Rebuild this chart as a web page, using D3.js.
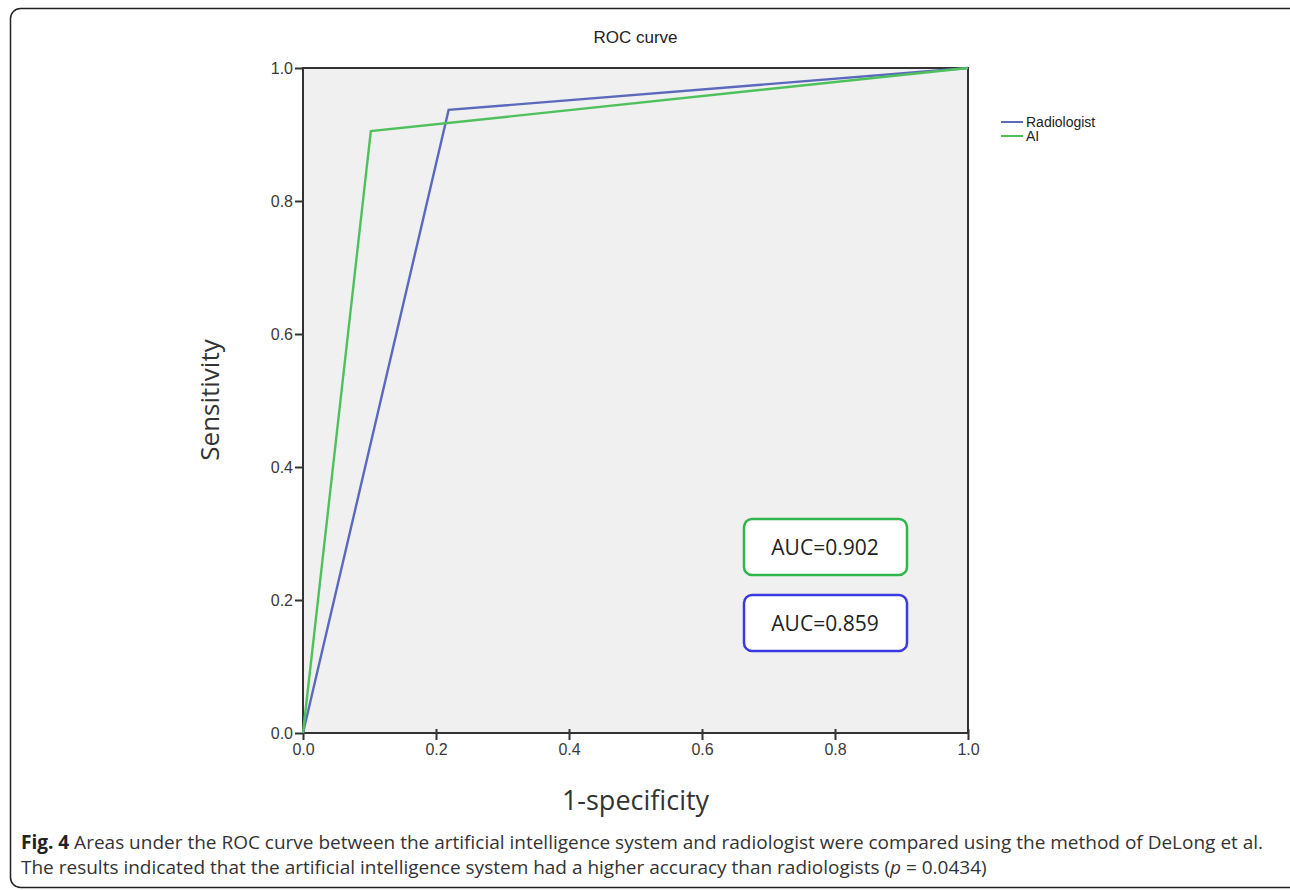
<!DOCTYPE html>
<html>
<head>
<meta charset="utf-8">
<script src="https://cdn.jsdelivr.net/npm/d3@7"></script>
<style>
  body { margin: 0; background: #fff; }
  svg { display: block; }
</style>
</head>
<body>
<div id="chart"></div>
<script>
// ROC points: [1-specificity, sensitivity]
const radiologistPoints = [[0, 0], [0.219, 0.937], [1, 1]];
const aiPoints = [[0, 0], [0.102, 0.905], [1, 1]];
const seriesNames = ["Radiologist", "AI"];
const aucLabels = ["AUC=0.902", "AUC=0.859"];
const tickValues = [0, 0.2, 0.4, 0.6, 0.8, 1.0];

const W = 1290, H = 890;
const plot = { left: 303, right: 968, top: 68, bottom: 733 };

const svg = d3.select("#chart").append("svg")
  .attr("width", W)
  .attr("height", H);

// outer frame
svg.append("rect")
  .attr("x", 10.5).attr("y", 8.5)
  .attr("width", 1290).attr("height", 879)
  .attr("rx", 10)
  .attr("fill", "none")
  .attr("stroke", "#222")
  .attr("stroke-width", 1.5);

const x = d3.scaleLinear().domain([0, 1]).range([plot.left, plot.right]);
const y = d3.scaleLinear().domain([0, 1]).range([plot.bottom, plot.top]);

// plot background
svg.append("rect")
  .attr("x", plot.left).attr("y", plot.top)
  .attr("width", plot.right - plot.left)
  .attr("height", plot.bottom - plot.top)
  .attr("fill", "#f0f0f0")
  .attr("stroke", "#333")
  .attr("stroke-width", 2);

// axes
const fmt = d3.format(".1f");
const xAxis = svg.append("g")
  .attr("transform", `translate(0,${plot.bottom})`)
  .call(d3.axisBottom(x).tickValues(tickValues).tickFormat(fmt).tickSize(7).tickPadding(4));
const yAxis = svg.append("g")
  .attr("transform", `translate(${plot.left},0)`)
  .call(d3.axisLeft(y).tickValues(tickValues).tickFormat(fmt).tickSize(8).tickPadding(2));

[xAxis, yAxis].forEach(g => {
  g.select(".domain").remove();
  g.selectAll("line").attr("stroke", "#333").attr("stroke-width", 2);
  g.attr("font-size", null);
  g.selectAll("text")
    .attr("fill", "#3a3a3a")
    .style("font-family", "Arial, 'Liberation Sans', sans-serif")
    .style("font-size", "16px");
});
// the bottom ticks in the picture go down from the axis
xAxis.selectAll("line").attr("y1", -4).attr("y2", 7);

// ROC lines
const line = d3.line().x(d => x(d[0])).y(d => y(d[1]));
const colors = ["#5b69bd", "#4fc15c"];
[radiologistPoints, aiPoints].forEach((pts, i) => {
  svg.append("path")
    .datum(pts)
    .attr("d", line)
    .attr("fill", "none")
    .attr("stroke", colors[i])
    .attr("stroke-width", 2.4)
    .attr("stroke-linejoin", "miter");
});

// title
svg.append("text")
  .attr("x", (plot.left + plot.right) / 2)
  .attr("y", 43)
  .attr("text-anchor", "middle")
  .attr("fill", "#222")
  .style("font-family", "Arial, 'Liberation Sans', sans-serif")
  .style("font-size", "17px")
  .text("ROC curve");

// legend
const legend = svg.append("g").attr("transform", "translate(1001,122)");
seriesNames.forEach((name, i) => {
  const row = legend.append("g").attr("transform", `translate(0,${i * 14})`);
  row.append("line")
    .attr("x1", 0).attr("x2", 22)
    .attr("stroke", colors[i]).attr("stroke-width", 2);
  row.append("text")
    .attr("x", 25).attr("y", 5)
    .attr("fill", "#222")
    .style("font-family", "Arial, 'Liberation Sans', sans-serif")
    .style("font-size", "14px")
    .text(name);
});

// AUC boxes
const boxColors = ["#2fb54c", "#3a3ae0"];
aucLabels.forEach((lab, i) => {
  const g = svg.append("g").attr("transform", `translate(744,${519 + i * 76})`);
  g.append("rect")
    .attr("width", 163).attr("height", 56)
    .attr("rx", 8)
    .attr("fill", "#fff")
    .attr("stroke", boxColors[i])
    .attr("stroke-width", 2.5);
  g.append("text")
    .attr("x", 81).attr("y", 36)
    .attr("text-anchor", "middle")
    .attr("fill", "#222")
    .style("font-family", "'Open Sans', 'Noto Sans', sans-serif")
    .style("font-size", "21px")
    .text(lab);
});

// axis titles
svg.append("text")
  .attr("transform", "translate(219,400) rotate(-90)")
  .attr("text-anchor", "middle")
  .attr("fill", "#333")
  .style("font-family", "'Open Sans', 'Noto Sans', sans-serif")
  .style("font-size", "26px")
  .text("Sensitivity");

svg.append("text")
  .attr("x", (plot.left + plot.right) / 2)
  .attr("y", 810)
  .attr("text-anchor", "middle")
  .attr("fill", "#333")
  .style("font-family", "'Open Sans', 'Noto Sans', sans-serif")
  .style("font-size", "27px")
  .text("1-specificity");

// caption
const cap = svg.append("g")
  .style("font-family", "'Open Sans', 'Noto Sans', sans-serif")
  .style("font-size", "19px")
  .attr("fill", "#333");
const l1 = cap.append("text").attr("x", 21).attr("y", 849);
l1.append("tspan").attr("font-weight", "bold").attr("fill", "#222").text("Fig. 4");
l1.append("tspan").text(" Areas under the ROC curve between the artificial intelligence system and radiologist were compared using the method of DeLong et al.");
const l2 = cap.append("text").attr("x", 21).attr("y", 874);
l2.append("tspan").text("The results indicated that the artificial intelligence system had a higher accuracy than radiologists (");
l2.append("tspan").attr("font-style", "italic").text("p");
l2.append("tspan").text(" = 0.0434)");
</script>
</body>
</html>
